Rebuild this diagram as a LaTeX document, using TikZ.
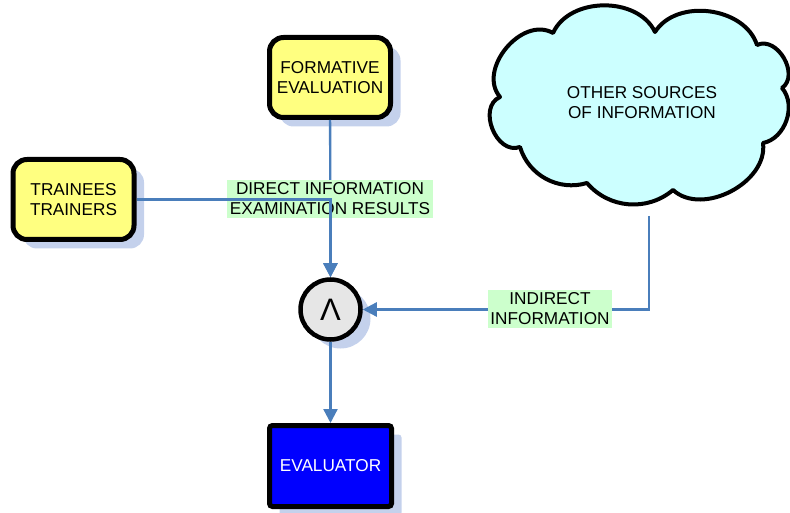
\documentclass[tikz,border=0pt]{standalone}
\usepackage{fontspec}
\setmainfont{Liberation Sans}
\usetikzlibrary{arrows.meta,shadows}
\definecolor{boxyellow}{HTML}{FFFF80}
\definecolor{evalblue}{HTML}{0000FF}
\definecolor{cloudcyan}{HTML}{CCFFFF}
\definecolor{tagbg}{HTML}{CCFFCC}
\definecolor{linkblue}{HTML}{4A7EBB}
\definecolor{shadowblue}{HTML}{C4D1EC}
\definecolor{ringgray}{HTML}{E6E6E6}
\begin{document}
\begin{tikzpicture}[x=1pt,y=-1pt,
  font=\fontsize{17.2}{20}\selectfont,
  softshadow/.style={drop shadow={shadow xshift=10pt,shadow yshift=-9pt,fill=shadowblue,opacity=1}},
  srcbox/.style={draw=black,line width=5pt,rounded corners=14pt,fill=boxyellow,
    minimum width=121pt,minimum height=80pt,align=center,inner sep=0pt,softshadow},
  gatenode/.style={circle,draw=black,line width=4.5pt,fill=ringgray,minimum size=60pt,
    inner sep=0pt,font=\fontsize{31}{34}\selectfont,softshadow},
  evalbox/.style={draw=black,line width=5pt,rounded corners=3pt,fill=evalblue,text=white,
    minimum width=122pt,minimum height=81pt,inner sep=0pt,softshadow},
  tag/.style={fill=tagbg,align=center,inner xsep=2.5pt,inner ysep=2.5pt},
  link/.style={draw=linkblue,line width=2.3pt,-{Triangle[length=14pt,width=14pt]}},
  cloudline/.style={draw=black,line width=4pt,fill=cloudcyan,line join=round},
]
\useasboundingbox (0,0) rectangle (790,513);

% source cloud
\draw[cloudline] (553,33) to[bend left=65] (655,32) to[bend left=65] (757,45)
  to[bend left=85,looseness=1.15] (782,88) to[bend left=60] (763,143)
  to[bend left=70] (673,190) to[bend left=45] (587,183)
  to[bend left=45] (520,147) to[bend left=88,looseness=1.2] (500,97)
  to[bend left=80,looseness=1.1] (553,33) -- cycle;
\node[align=center] (srcs) at (642,103) {OTHER SOURCES\\OF INFORMATION};
\coordinate (tap) at (649,216);

% boxes
\node[srcbox] (form) at (330,77.5) {FORMATIVE\\EVALUATION};
\node[srcbox] (train) at (73.5,199.5) {TRAINEES\\TRAINERS};
\node[gatenode] (gate) at (330.5,309.5) {Λ};
\node[evalbox] (eval) at (330.5,466) {EVALUATOR};

% connectors
\draw[link] (form) -- (gate);
\node[tag] (direct) at (330,199) {DIRECT INFORMATION\\EXAMINATION RESULTS};
\draw[link] (train.east) -| (gate.north);
\draw[link] (tap) |- (gate.east);
\node[tag] (indirect) at (550,309) {INDIRECT\\INFORMATION};
\draw[link] (gate) -- (eval);
\end{tikzpicture}
\end{document}
